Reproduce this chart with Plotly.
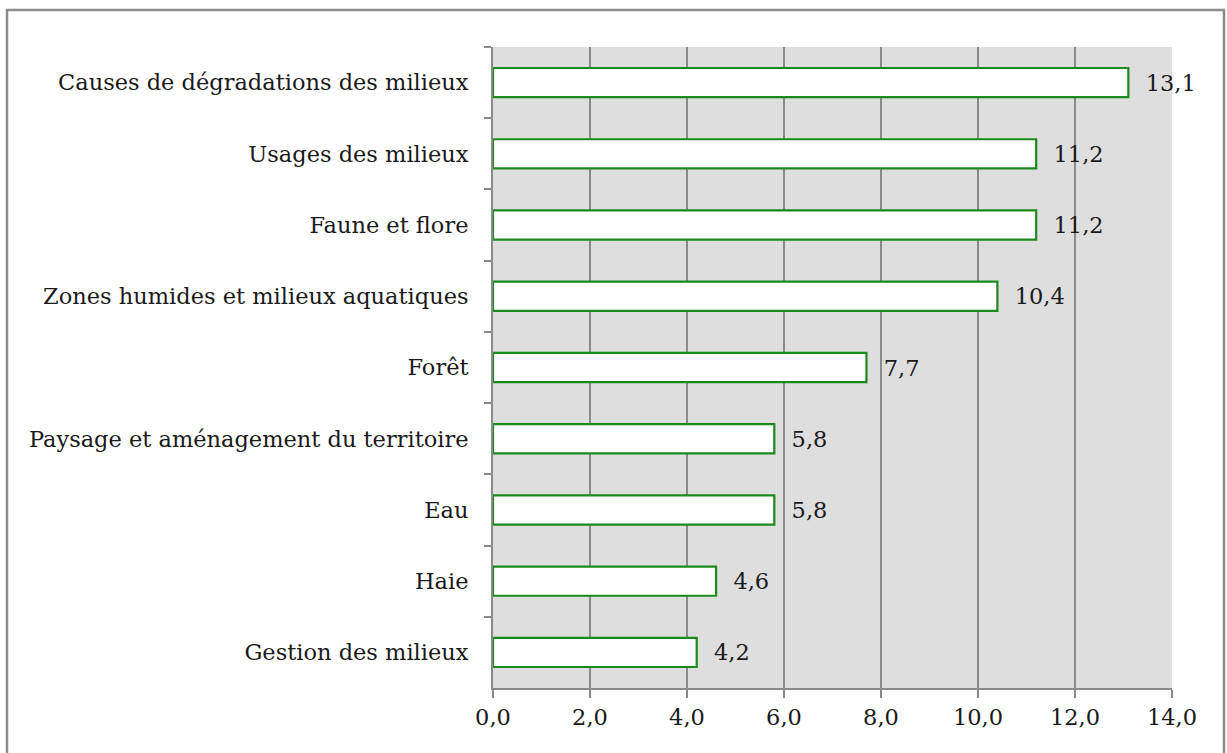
import plotly.graph_objects as go

categories = [
    "Causes de dégradations des milieux",
    "Usages des milieux",
    "Faune et flore",
    "Zones humides et milieux aquatiques",
    "Forêt",
    "Paysage et aménagement du territoire",
    "Eau",
    "Haie",
    "Gestion des milieux",
]
values = [13.1, 11.2, 11.2, 10.4, 7.7, 5.8, 5.8, 4.6, 4.2]
x_ticks = [0, 2, 4, 6, 8, 10, 12, 14]

FONT = "DejaVu Serif"
FS = 22.5

fig = go.Figure()
fig.add_trace(go.Bar(
    y=categories, x=values, orientation="h",
    width=0.41,
    marker=dict(color="white", line=dict(color="#1a8a1a", width=2.2)),
    text=values, texttemplate="  %{x:.1f}", textposition="outside",
    textfont=dict(family=FONT, size=FS, color="#1a1a1a"),
    cliponaxis=False,
))

W, H = 1227, 753
L, R, T, B = 493, 55, 47, 65
pw, ph = W - L - R, H - T - B

def px(xp):
    return (xp - L) / pw

def py(yp):
    return (H - B - yp) / ph

fig.update_layout(
    width=W, height=H,
    margin=dict(l=L, r=R, t=T, b=B),
    paper_bgcolor="white",
    plot_bgcolor="#dedede",
    separators=",.",
    showlegend=False,
    font=dict(family=FONT, size=FS, color="#1a1a1a"),
    shapes=[dict(type="rect", xref="paper", yref="paper",
                 x0=px(7), x1=px(1224), y0=py(10), y1=py(760),
                 line=dict(color="#8c8c8c", width=2.5), fillcolor="rgba(0,0,0,0)", layer="below")],
)
fig.update_xaxes(
    range=[0, 14], tickvals=x_ticks, tickformat=".1f",
    showgrid=True, gridcolor="#8a8a8a", gridwidth=2,
    showline=True, linecolor="#8a8a8a", linewidth=2,
    ticks="outside", ticklen=8, tickcolor="#8a8a8a", tickwidth=2,
    zeroline=False, tickfont=dict(family=FONT, size=FS),
)
fig.update_yaxes(
    categoryorder="array", categoryarray=categories, autorange="reversed",
    showgrid=False, showline=True, linecolor="#8a8a8a", linewidth=2,
    ticks="outside", tickson="boundaries", ticklen=7, tickcolor="#8a8a8a", tickwidth=2,
    ticklabelstandoff=18,
    tickfont=dict(family=FONT, size=FS),
)

fig.write_html("out.html", config={"displayModeBar": False},
               post_script="document.body.style.margin='0';")
